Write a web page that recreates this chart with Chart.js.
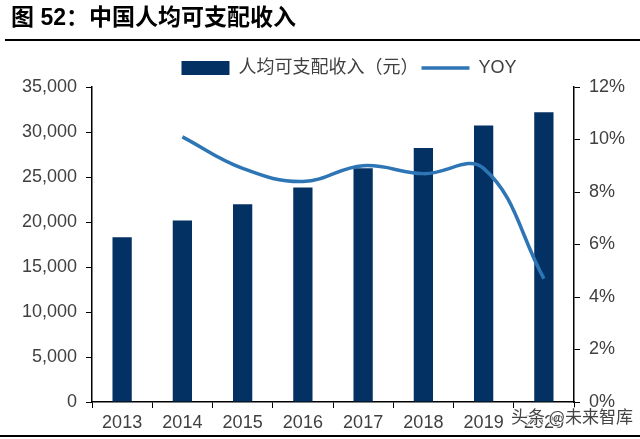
<!DOCTYPE html>
<html>
<head>
<meta charset="utf-8">
<script src="https://cdn.jsdelivr.net/npm/chart.js@4/dist/chart.umd.min.js"></script>
<style>
  html, body { margin: 0; padding: 0; background: #fff; }
  #wrap { position: relative; width: 640px; height: 439px; }
</style>
</head>
<body>
<div id="wrap"><canvas id="mycanvas" width="640" height="439"></canvas></div>
<script>
// data
var years = ['2013', '2014', '2015', '2016', '2017', '2018', '2019', '2020'];
var income = [18311, 20167, 21966, 23821, 25974, 28228, 30733, 32189];
var yoy = [null, 10.1, 8.9, 8.4, 9.0, 8.7, 8.9, 4.7];

var titleText = '图 52：中国人均可支配收入';
var watermark = '头条 @未来智库';

var textColor = '#404040';
var fontFamily = '"Liberation Sans", Arial, "Noto Sans CJK SC", sans-serif';

// title, rules and watermark drawn around the chart
var decor = {
    id: 'decor',
    afterLayout: function (chart) {
        // legend sits a bit right of centre in the original
        chart.legend.left += 29;
        chart.legend.right += 29;
    },
    afterDraw: function (chart) {
        var ctx = chart.ctx;
        ctx.save();
        ctx.fillStyle = '#000';
        ctx.font = 'bold 23px "Liberation Sans", Arial, "Noto Sans CJK SC", sans-serif';
        ctx.textBaseline = 'middle';
        ctx.fillText(titleText, 11, 19);
        ctx.fillRect(5, 39, 635, 2);
        ctx.fillRect(0, 435, 640, 2);

        ctx.font = '17px "Noto Sans CJK SC", sans-serif';
        ctx.lineWidth = 2;
        ctx.strokeStyle = 'rgba(255,255,255,0.8)';
        ctx.strokeText(watermark, 511, 417);
        ctx.fillStyle = '#444';
        ctx.fillText(watermark, 511, 417);
        ctx.restore();
    }
};

var ctx = document.getElementById('mycanvas');

var chart = new Chart(ctx, {
    data: {
        labels: years,
        datasets: [
            {
                type: 'line',
                label: 'YOY',
                data: yoy,
                yAxisID: 'y1',
                borderColor: '#2E75B6',
                backgroundColor: '#2E75B6',
                borderWidth: 3.5,
                pointRadius: 0,
                pointStyle: 'line',
                tension: 0.4,
                order: 0
            },
            {
                type: 'bar',
                label: '人均可支配收入（元）',
                data: income,
                yAxisID: 'y',
                backgroundColor: '#033163',
                borderColor: '#033163',
                borderWidth: 0,
                pointStyle: 'rect',
                barPercentage: 0.32,
                categoryPercentage: 1,
                order: 1
            }
        ]
    },
    options: {
        responsive: false,
        animation: false,
        devicePixelRatio: 1,
        layout: { padding: { top: 56, left: 0, right: 0, bottom: 0 } },
        plugins: {
            legend: {
                position: 'top',
                reverse: true,
                labels: {
                    usePointStyle: true,
                    pointStyleWidth: 48,
                    boxHeight: 14,
                    padding: 3,
                    color: textColor,
                    font: { size: 18, family: fontFamily }
                }
            },
            tooltip: { enabled: false }
        },
        scales: {
            x: {
                offset: true,
                grid: {
                    offset: true,
                    drawOnChartArea: false,
                    tickLength: 6,
                    color: '#000'
                },
                border: { color: '#000', width: 1.5 },
                ticks: {
                    autoSkip: false,
                    maxRotation: 0,
                    color: textColor,
                    font: { size: 18, family: fontFamily },
                    padding: 4
                },
                afterFit: function (s) { s.height = 37; }
            },
            y: {
                position: 'left',
                min: 0,
                max: 35000,
                grid: { drawOnChartArea: false, tickLength: 6, color: '#000' },
                border: { color: '#000', width: 1.5 },
                ticks: {
                    stepSize: 5000,
                    color: textColor,
                    padding: 9,
                    font: { size: 18, family: fontFamily },
                    callback: function (v) { return v.toLocaleString('en-US'); }
                },
                afterFit: function (s) { s.width = 92; }
            },
            y1: {
                position: 'right',
                min: 0,
                max: 12,
                grid: { drawOnChartArea: false, tickLength: 6, color: '#000' },
                border: { color: '#000', width: 1.5 },
                ticks: {
                    stepSize: 2,
                    color: textColor,
                    padding: 9,
                    font: { size: 18, family: fontFamily },
                    callback: function (v) { return v + '%'; }
                },
                afterFit: function (s) { s.width = 66; }
            }
        }
    },
    plugins: [decor]
});
</script>
</body>
</html>
